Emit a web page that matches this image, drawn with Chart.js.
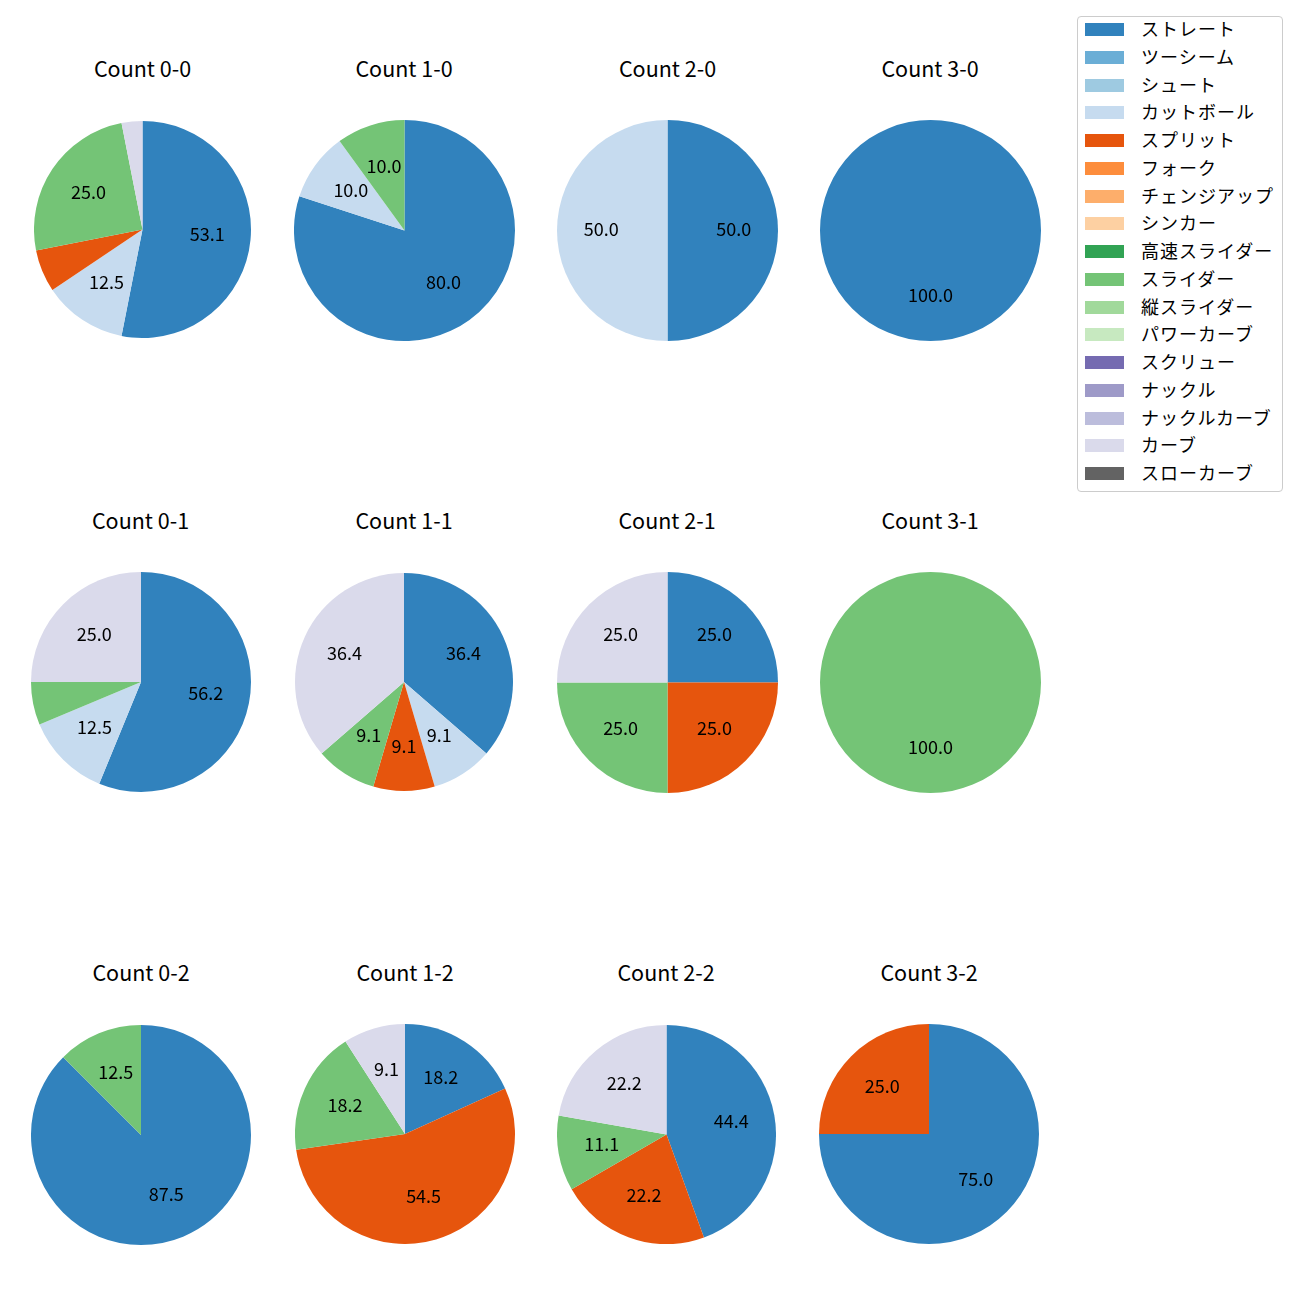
<!DOCTYPE html>
<html>
<head>
<meta charset="utf-8">
<script src="https://cdn.jsdelivr.net/npm/chart.js@4"></script>
<style>
	body { margin: 0; background: #fff; font-family: 'Noto Sans CJK JP', 'Noto Sans', sans-serif; }
	#stage { position: relative; width: 1300px; height: 1300px; }
	.pie { position: absolute; }
	.title { position: absolute; width: 240px; text-align: center; font-size: 21.5px; line-height: 24px; color: #000; }
	#legend { position: absolute; left: 1077px; top: 16px; width: 204px; height: 474px; border: 1px solid #ccc; border-radius: 4px; }
	.lrow { position: absolute; left: 0; height: 20px; }
	.lpatch { position: absolute; left: 7px; top: 3px; width: 39px; height: 13px; }
	.ltext { position: absolute; left: 63px; top: -5px; font-size: 18px; line-height: 26px; letter-spacing: 1px; white-space: nowrap; color: #000; }
</style>
</head>
<body>
<div id="stage"></div>
<script>
// 球種と色
const pitchTypes = ['ストレート', 'ツーシーム', 'シュート', 'カットボール', 'スプリット', 'フォーク',
	'チェンジアップ', 'シンカー', '高速スライダー', 'スライダー', '縦スライダー', 'パワーカーブ',
	'スクリュー', 'ナックル', 'ナックルカーブ', 'カーブ', 'スローカーブ'];
const pitchColors = ['#3182bd', '#6baed6', '#9ecae1', '#c6dbef', '#e6550d', '#fd8d3c',
	'#fdae6b', '#fdd0a2', '#31a354', '#74c476', '#a1d99b', '#c7e9c0',
	'#756bb1', '#9e9ac8', '#bcbddc', '#dadaeb', '#636363'];

const countLabels = ['0-0', '1-0', '2-0', '3-0', '0-1', '1-1', '2-1', '3-1', '0-2', '1-2', '2-2', '3-2'];

// 各カウントの割合 (%), pitchTypes の順
const count00 = [53.1, 0, 0, 12.5, 6.3, 0, 0, 0, 0, 25.0, 0, 0, 0, 0, 0, 3.1, 0];
const count10 = [80.0, 0, 0, 10.0, 0, 0, 0, 0, 0, 10.0, 0, 0, 0, 0, 0, 0, 0];
const count20 = [50.0, 0, 0, 50.0, 0, 0, 0, 0, 0, 0, 0, 0, 0, 0, 0, 0, 0];
const count30 = [100.0, 0, 0, 0, 0, 0, 0, 0, 0, 0, 0, 0, 0, 0, 0, 0, 0];
const count01 = [56.2, 0, 0, 12.5, 0, 0, 0, 0, 0, 6.3, 0, 0, 0, 0, 0, 25.0, 0];
const count11 = [36.4, 0, 0, 9.1, 9.1, 0, 0, 0, 0, 9.1, 0, 0, 0, 0, 0, 36.4, 0];
const count21 = [25.0, 0, 0, 0, 25.0, 0, 0, 0, 0, 25.0, 0, 0, 0, 0, 0, 25.0, 0];
const count31 = [0, 0, 0, 0, 0, 0, 0, 0, 0, 100.0, 0, 0, 0, 0, 0, 0, 0];
const count02 = [87.5, 0, 0, 0, 0, 0, 0, 0, 0, 12.5, 0, 0, 0, 0, 0, 0, 0];
const count12 = [18.2, 0, 0, 0, 54.5, 0, 0, 0, 0, 18.2, 0, 0, 0, 0, 0, 9.1, 0];
const count22 = [44.4, 0, 0, 0, 22.2, 0, 0, 0, 0, 11.1, 0, 0, 0, 0, 0, 22.2, 0];
const count32 = [75.0, 0, 0, 0, 25.0, 0, 0, 0, 0, 0, 0, 0, 0, 0, 0, 0, 0];

const countValues = [count00, count10, count20, count30, count01, count11,
	count21, count31, count02, count12, count22, count32];

// 配置 (各円の中心と半径)
const pieX = [142.5, 404, 667.5, 930, 140.5, 404, 667, 930, 141, 405, 666, 929];
const pieY = [229, 230, 230, 230, 682, 682, 682, 682, 1134.5, 1134, 1134, 1134];
const pieR = [108.5, 110.5, 110.5, 110.5, 110, 109, 110.5, 110.5, 110, 110, 109.5, 110];
const titleY = [69, 521, 973];

// 割合ラベル (半径の 0.6 の位置)
const pctLabelPlugin = {
	id: 'pctLabels',
	afterDatasetsDraw(chart) {
		const ctx = chart.ctx;
		const data = chart.data.datasets[0].data;
		const total = data.reduce((a, b) => a + b, 0);
		const meta = chart.getDatasetMeta(0);
		ctx.save();
		ctx.font = '18px "Noto Sans CJK JP", sans-serif';
		ctx.fillStyle = '#000';
		ctx.textAlign = 'center';
		ctx.textBaseline = 'middle';
		meta.data.forEach(function(arc, i) {
			const pct = data[i] / total * 100;
			if (pct < 8) return;
			const p = arc.getProps(['x', 'y', 'startAngle', 'endAngle', 'outerRadius'], true);
			const mid = (p.startAngle + p.endAngle) / 2;
			const r = p.outerRadius * 0.6;
			ctx.fillText(pct.toFixed(1), p.x + Math.cos(mid) * r, p.y + Math.sin(mid) * r - 1.5);
		});
		ctx.restore();
	}
};

const stage = document.getElementById('stage');

countLabels.forEach(function(label, k) {
	const cx = pieX[k];
	const cy = pieY[k];
	const r = pieR[k];

	const title = document.createElement('div');
	title.className = 'title';
	title.textContent = 'Count ' + label;
	title.style.left = (cx - 120) + 'px';
	title.style.top = (titleY[Math.floor(k / 4)] - 13) + 'px';
	stage.appendChild(title);

	const canvas = document.createElement('canvas');
	canvas.className = 'pie';
	canvas.width = Math.round(r * 2);
	canvas.height = Math.round(r * 2);
	canvas.style.left = (cx - r) + 'px';
	canvas.style.top = (cy - r) + 'px';
	stage.appendChild(canvas);

	new Chart(canvas.getContext('2d'), {
		type: 'pie',
		data: {
			labels: pitchTypes,
			datasets: [{
				data: countValues[k],
				backgroundColor: pitchColors,
				borderWidth: 0
			}]
		},
		options: {
			responsive: false,
			animation: false,
			layout: { padding: 0 },
			plugins: {
				legend: { display: false },
				tooltip: { enabled: false }
			}
		},
		plugins: [pctLabelPlugin]
	});
});

// 凡例
const legend = document.createElement('div');
legend.id = 'legend';
pitchTypes.forEach(function(name, i) {
	const row = document.createElement('div');
	row.className = 'lrow';
	row.style.top = (29 - 16 - 10 + i * 27.75) + 'px';
	const patch = document.createElement('div');
	patch.className = 'lpatch';
	patch.style.background = pitchColors[i];
	const text = document.createElement('div');
	text.className = 'ltext';
	text.textContent = name;
	row.appendChild(patch);
	row.appendChild(text);
	legend.appendChild(row);
});
stage.appendChild(legend);
</script>
</body>
</html>
